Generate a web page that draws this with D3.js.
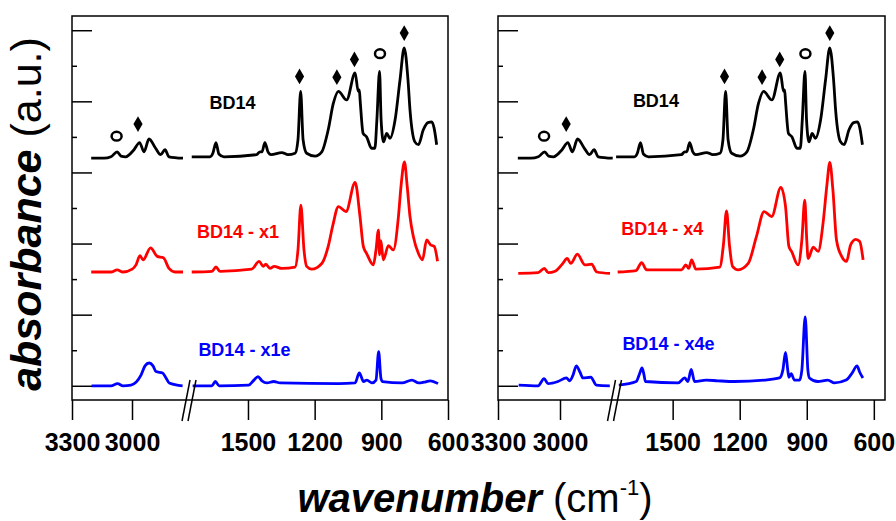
<!DOCTYPE html>
<html>
<head>
<meta charset="utf-8">
<script src="https://cdn.jsdelivr.net/npm/d3@7"></script>
<style>
  body { margin: 0; background: #fff; }
  text { font-family: "Liberation Sans", Arial, sans-serif; }
</style>
</head>
<body>
<svg id="chart" width="896" height="521"></svg>
<script>
// spectra: [wavenumber (cm-1), absorbance offset (a.u.)]
const bd14 = [
  [3204,3.20],[3140,3.20],[3105,3.22],[3074,3.29],[3055,3.23],[3032,3.22],[2990,3.32],[2962,3.42],
  [2940,3.29],[2915,3.47],[2882,3.34],[2857,3.25],[2835,3.32],[2815,3.22],[2745,3.20],
  [1753,3.22],[1671,3.22],[1658,3.27],[1644,3.42],[1631,3.26],[1608,3.22],[1461,3.25],[1446,3.29],
  [1437,3.29],[1424,3.42],[1410,3.29],[1396,3.25],[1348,3.28],[1320,3.25],[1288,3.27],[1275,3.46],
  [1263,4.14],[1252,3.46],[1236,3.27],[1198,3.23],[1168,3.29],[1139,3.60],[1116,3.97],[1093,4.14],
  [1056,4.02],[1018,4.40],[1004,4.14],[999,4.16],[995,4.00],[982,3.55],[966,3.50],[944,3.34],
  [929,3.34],[920,3.74],[908,4.42],[901,3.74],[890,3.43],[876,3.55],[861,3.48],[838,3.74],
  [816,4.30],[797,4.75],[780,4.30],[771,3.88],[749,3.43],[733,3.39],[711,3.60],[690,3.70],
  [673,3.71],[663,3.63],[651,3.39]
];
const bd14x1 = [
  [3204,1.60],[3105,1.60],[3074,1.63],[3045,1.60],[2999,1.64],[2980,1.70],[2960,1.83],[2945,1.77],
  [2907,1.94],[2874,1.82],[2843,1.80],[2815,1.65],[2785,1.60],[2745,1.60],
  [1753,1.60],[1662,1.61],[1644,1.67],[1626,1.61],[1483,1.64],[1450,1.75],[1431,1.68],[1420,1.71],
  [1401,1.65],[1382,1.68],[1348,1.65],[1288,1.67],[1275,1.91],[1262,2.54],[1248,1.91],[1236,1.68],
  [1213,1.64],[1168,1.72],[1139,1.96],[1118,2.26],[1093,2.52],[1059,2.45],[1018,2.86],[996,2.38],
  [981,1.96],[966,1.86],[936,1.70],[924,1.91],[913,2.19],[908,1.84],[902,2.04],[891,1.77],
  [868,1.97],[846,1.91],[823,2.38],[811,2.82],[796,3.15],[784,2.82],[771,2.38],[756,2.10],
  [733,1.86],[715,1.77],[696,2.05],[678,1.98],[662,1.96],[647,1.75]
];
const bd14x1e = [
  [3202,0.00],[3105,0.00],[3072,0.03],[3045,0.00],[3005,0.01],[2955,0.15],[2935,0.28],[2914,0.32],
  [2895,0.28],[2880,0.20],[2847,0.18],[2830,0.11],[2814,0.04],[2747,0.00],
  [1749,0.00],[1662,0.00],[1647,0.06],[1630,0.00],[1497,0.01],[1473,0.08],[1455,0.13],[1437,0.07],
  [1415,0.04],[1384,0.06],[1355,0.04],[1092,0.03],[1018,0.04],[999,0.18],[980,0.06],[965,0.08],
  [942,0.04],[924,0.08],[912,0.48],[902,0.11],[895,0.06],[807,0.04],[762,0.08],[732,0.04],
  [708,0.05],[680,0.07],[645,0.03]
];
const bd14x4 = [
  [3202,1.58],[3106,1.59],[3076,1.65],[3057,1.59],[3024,1.61],[2992,1.70],[2965,1.79],[2948,1.72],
  [2916,1.85],[2879,1.70],[2847,1.71],[2822,1.60],[2758,1.58],
  [1746,1.60],[1664,1.62],[1639,1.73],[1616,1.63],[1460,1.63],[1441,1.70],[1428,1.65],[1415,1.77],
  [1396,1.64],[1289,1.67],[1273,1.98],[1259,2.46],[1246,1.98],[1232,1.68],[1207,1.63],[1162,1.72],
  [1125,2.10],[1091,2.45],[1057,2.38],[1016,2.79],[995,2.52],[980,1.96],[968,1.89],[939,1.70],
  [922,2.05],[909,2.61],[900,2.05],[894,1.79],[871,1.95],[849,1.89],[827,2.29],[810,2.82],
  [797,3.14],[783,2.75],[767,2.05],[744,1.82],[722,1.75],[704,1.98],[681,2.06],[663,2.03],[648,1.77]
];
const bd14x4e = [
  [3200,0.01],[3106,0.00],[3077,0.10],[3058,0.03],[3010,0.06],[2969,0.11],[2953,0.07],[2937,0.15],
  [2921,0.28],[2903,0.19],[2889,0.11],[2851,0.12],[2824,0.01],[2759,0.00],
  [1741,0.01],[1663,0.06],[1648,0.17],[1637,0.25],[1628,0.15],[1622,0.06],[1476,0.04],[1446,0.11],
  [1432,0.06],[1417,0.23],[1402,0.06],[1350,0.08],[1298,0.07],[1223,0.06],[1089,0.08],[1022,0.11],
  [1007,0.22],[995,0.47],[985,0.22],[980,0.12],[970,0.17],[955,0.08],[932,0.08],[922,0.22],
  [907,0.97],[895,0.22],[888,0.11],[851,0.06],[806,0.08],[776,0.04],[724,0.08],[699,0.17],
  [675,0.28],[663,0.19],[649,0.11]
];

// band markers on the BD14 trace: o and diamond
const markers = [
  {wn: 3077, y: 3.51, type: 'o'}, {wn: 2970, y: 3.68, type: 'd'},
  {wn: 1268, y: 4.35, type: 'd'}, {wn: 1100, y: 4.34, type: 'd'},
  {wn: 1021, y: 4.59, type: 'd'}, {wn: 906, y: 4.67, type: 'o'},
  {wn: 797, y: 4.96, type: 'd'}
];

const hiTicks = [3300, 3000];
const loTicks = [1500, 1200, 900, 600];

const leftLabels = [
  {text: 'BD14', wn: 1570, y: 3.89, color: '#000'},
  {text: 'BD14 - x1', wn: 1545, y: 2.08, color: '#ff0000'},
  {text: 'BD14 - x1e', wn: 1516, y: 0.42, color: '#0000ff'}
];
const rightLabels = [
  {text: 'BD14', wn: 1575, y: 3.92, color: '#000'},
  {text: 'BD14 - x4', wn: 1546, y: 2.12, color: '#ff0000'},
  {text: 'BD14 - x4e', wn: 1519, y: 0.50, color: '#0000ff'}
];

const panels = [
  {left: 72, right: 448, hiRange: [72, 192], loDomain: [1800, 600], loRange: [181.3, 448], breakX: 189,
   series: [[bd14, '#000'], [bd14x1, '#ff0000'], [bd14x1e, '#0000ff']], labels: leftLabels},
  {left: 498, right: 885, hiRange: [498, 622], loDomain: [1800, 550], loRange: [605.6, 885], breakX: 614.5,
   series: [[bd14, '#000'], [bd14x4, '#ff0000'], [bd14x4e, '#0000ff']], labels: rightLabels}
];

const plotTop = 16, plotBottom = 400;
const svg = d3.select('#chart');

const y = d3.scaleLinear().domain([-0.2, 5.2]).range([plotBottom, plotTop]);

panels.forEach(p => {
  const xHi = d3.scaleLinear().domain([3300, 2700]).range(p.hiRange);
  const xLo = d3.scaleLinear().domain(p.loDomain).range(p.loRange);
  const xPos = wn => wn > 2000 ? xHi(wn) : xLo(wn);

  const g = svg.append('g');

  // spectra, drawn in two pieces either side of the axis break
  const line = d3.line()
    .x(d => xPos(d[0]))
    .y(d => y(d[1]))
    .curve(d3.curveMonotoneX);

  p.series.forEach(([data, color]) => {
    [data.filter(d => d[0] > 2000), data.filter(d => d[0] <= 2000)].forEach(part => {
      g.append('path')
        .datum(part)
        .attr('d', line)
        .attr('fill', 'none')
        .attr('stroke', color)
        .attr('stroke-width', 2.8)
        .attr('stroke-linejoin', 'round');
    });
  });

  // frame
  g.append('rect')
    .attr('x', p.left).attr('y', plotTop)
    .attr('width', p.right - p.left).attr('height', plotBottom - plotTop)
    .attr('fill', 'none').attr('stroke', '#000').attr('stroke-width', 1.5);

  // y ticks, pointing into the plot, no labels
  const yMajor = g.append('g')
    .attr('transform', `translate(${p.left},0)`)
    .call(d3.axisRight(y).tickValues([0, 1, 2, 3, 4, 5]).tickSize(20).tickFormat(''));
  const yMinor = g.append('g')
    .attr('transform', `translate(${p.left},0)`)
    .call(d3.axisRight(y).tickValues([0.5, 1.5, 2.5, 3.5, 4.5]).tickSize(5).tickFormat(''));
  [yMajor, yMinor].forEach(a => {
    a.select('.domain').remove();
    a.selectAll('line').attr('stroke-width', 1.5);
  });

  // x ticks below the frame
  const xa = [
    d3.axisBottom(xHi).tickValues(hiTicks),
    d3.axisBottom(xLo).tickValues(loTicks)
  ];
  xa.forEach(axis => {
    const ag = g.append('g')
      .attr('transform', `translate(0,${plotBottom})`)
      .call(axis.tickSize(20).tickPadding(13).tickSizeOuter(0).tickFormat(d3.format('d')));
    ag.select('.domain').remove();
    ag.selectAll('line').attr('stroke-width', 1.5);
    ag.selectAll('text')
      .attr('fill', '#000')
      .style('font-family', '"Liberation Sans", Arial, sans-serif')
      .style('font-size', '25px')
      .style('font-weight', 'bold');
  });

  // axis break marks
  [-3, 3].forEach(k => {
    g.append('line')
      .attr('x1', p.breakX + 4 + k).attr('y1', 380)
      .attr('x2', p.breakX - 4 + k).attr('y2', 421)
      .attr('stroke', '#000').attr('stroke-width', 1.5);
  });

  // band markers
  markers.forEach(m => {
    const mx = xPos(m.wn), my = y(m.y);
    if (m.type === 'd') {
      g.append('path')
        .attr('d', d3.symbol(d3.symbolDiamond, 72)())
        .attr('transform', `translate(${mx},${my})`)
        .attr('fill', '#000');
    } else {
      g.append('ellipse')
        .attr('cx', mx).attr('cy', my).attr('rx', 5).attr('ry', 4.4)
        .attr('fill', '#fff').attr('stroke', '#000').attr('stroke-width', 2.5);
    }
  });

  // series labels
  p.labels.forEach(l => {
    g.append('text')
      .attr('x', xPos(l.wn)).attr('y', y(l.y))
      .attr('text-anchor', 'middle')
      .attr('fill', l.color)
      .style('font-size', '18px')
      .style('font-weight', 'bold')
      .text(l.text);
  });
});

// axis titles
const xt = svg.append('text')
  .attr('x', 475).attr('y', 512)
  .attr('text-anchor', 'middle')
  .style('font-size', '40px');
xt.append('tspan').style('font-weight', 'bold').style('font-style', 'italic').text('wavenumber');
xt.append('tspan').text(' (cm');
xt.append('tspan').attr('dy', -17).style('font-size', '22px').text('-1');
xt.append('tspan').attr('dy', 17).text(')');

const yt = svg.append('text')
  .attr('transform', 'translate(41,214) rotate(-90)')
  .attr('text-anchor', 'middle')
  .style('font-size', '43px');
yt.append('tspan').style('font-weight', 'bold').style('font-style', 'italic').text('absorbance');
yt.append('tspan').text(' (a.u.)');
</script>
</body>
</html>
